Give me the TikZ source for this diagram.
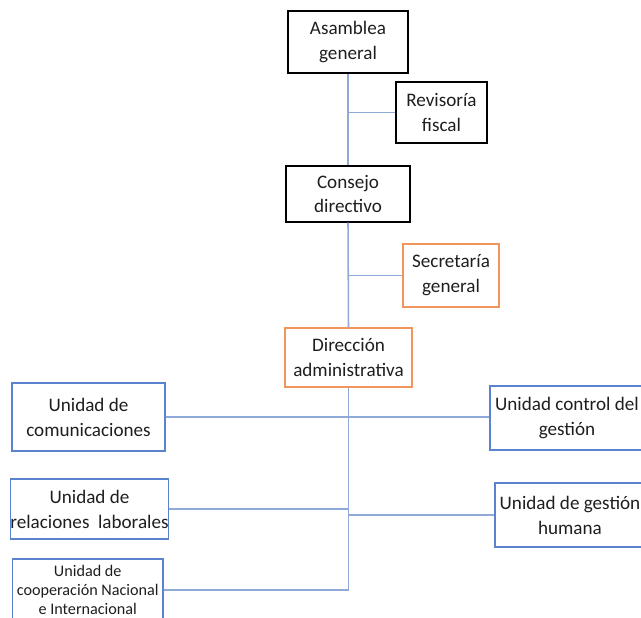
\documentclass[tikz,border=0pt]{standalone}
\usepackage{fontspec}
\setmainfont{Carlito}
\definecolor{spineblue}{RGB}{143,170,214}
\definecolor{unitblue}{RGB}{90,130,205}
\definecolor{staffor}{RGB}{240,150,90}
\definecolor{txtgray}{RGB}{30,30,30}
\tikzset{
  orgbox/.style={draw, align=center, inner sep=0pt, line width=0.9pt,
    text=txtgray, font=\fontsize{13.6}{17.7}\selectfont},
  boardbox/.style={orgbox, draw=black},
  staffbox/.style={orgbox, draw=staffor},
  unitbox/.style={orgbox, draw=unitblue},
  link/.style={draw=spineblue, line width=1.1pt}
}
\begin{document}
\begin{tikzpicture}[x=0.025cm, y=-0.025cm]
  \useasboundingbox (0,0) rectangle (641,618);
  \clip (0,0) rectangle (641,618);
  % direccion superior
  \node[boardbox, minimum width=3cm, minimum height=1.55cm] (asamblea) at (348,42) {Asamblea\\general};
  \node[boardbox, minimum width=2.275cm, minimum height=1.525cm] (revisoria) at (441.5,112.5) {Revisoría\\fiscal};
  \node[boardbox, minimum width=3.1cm, minimum height=1.4cm] (consejo) at (348,194) {Consejo\\directivo};
  \node[staffbox, minimum width=2.4cm, minimum height=1.575cm] (secretaria) at (451,275.5) {Secretaría\\general};
  \node[staffbox, minimum width=3.175cm, minimum height=1.475cm] (direccion) at (348.5,357.5) {Dirección\\administrativa};
  % unidades
  \node[unitbox, minimum width=3.825cm, minimum height=1.7cm] (comunicaciones) at (88.5,417) {Unidad de\\comunicaciones};
  \node[unitbox, minimum width=3.85cm, minimum height=1.6cm] (control) at (567,418) {Unidad control del\\gestión};
  \node[unitbox, minimum width=3.875cm, minimum height=1.5cm] (relaciones) at (89.5,509) {Unidad de\\relaciones\hspace{0.45em}laborales};
  \node[unitbox, minimum width=3.75cm, minimum height=1.6cm] (humana) at (570,515) {Unidad de gestión\\humana};
  \node[unitbox, minimum width=3.76cm, minimum height=1.55cm,
    font=\fontsize{11.5}{13.8}\selectfont] (cooperacion) at (87.75,590) {Unidad de\\cooperación Nacional\\e Internacional};
  % conectores
  \path[link] (asamblea.south) -- (consejo.north);
  \path[link] (consejo.south) -- (direccion.north);
  \path[link] (direccion.south) -- (direccion.south |- cooperacion.east);
  \path[link] (revisoria.west) -- (revisoria.west -| asamblea.south);
  \path[link] (secretaria.west) -- (secretaria.west -| consejo.south);
  \path[link] (comunicaciones.east) -- (comunicaciones.east -| control.west);
  \path[link] (relaciones.east) -- (relaciones.east -| direccion.south);
  \path[link] (humana.west) -- (humana.west -| direccion.south);
  \path[link] (cooperacion.east) -- (cooperacion.east -| direccion.south);
\end{tikzpicture}
\end{document}
